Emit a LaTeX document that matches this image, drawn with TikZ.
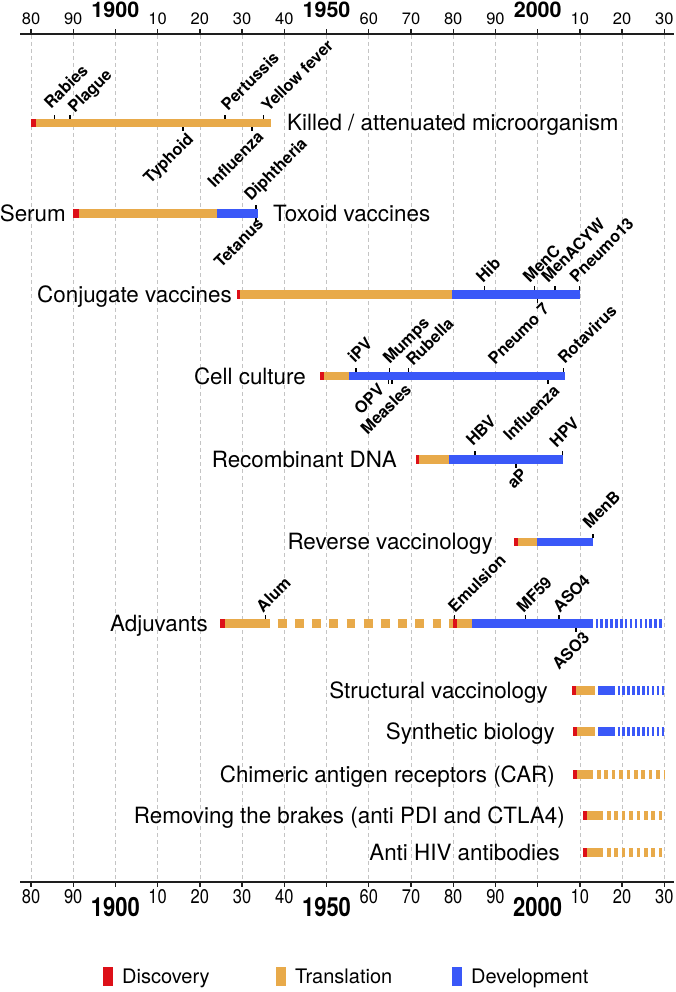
\documentclass[tikz,border=0pt]{standalone}
\usepackage{fontspec}
\setmainfont{TeX Gyre Heros}
\definecolor{cdisc}{HTML}{DD1018}
\definecolor{ctrans}{HTML}{E8AA4A}
\definecolor{cdev}{HTML}{3A58F8}
\definecolor{cgrid}{HTML}{C4C4C4}
\definecolor{caxis}{HTML}{1E1E1E}
\newcommand\bh{4.25}
% solid bar segment: colour, x1, x2, y
\newcommand\barseg[4]{\fill[#1] (#2,{#4-\bh}) rectangle (#3,{#4+\bh});}
% dashed bar segment: colour, x1, x2, y, pattern
\newcommand\dbarseg[5]{\draw[#1, line width=8.5pt, dash pattern=#5] (#2,#4) -- (#3,#4);}
% label above: name, x, y, dx, dy, text   (offset of text baseline start from tick top)
\newcommand\lu[6]{\draw[tk] (#2,{#3-\bh}) -- (#2,{#3-\bh-4}); \node[upl] (#1) at ({#2+#4},{#3-\bh-4+#5}) {#6};}
% label below: name, x, y, dx, dy, text   (offset of text top-right from tick bottom)
\newcommand\ld[6]{\draw[tk] (#2,{#3+\bh}) -- (#2,{#3+\bh+4}); \node[dnl] (#1) at ({#2+#4},{#3+\bh+4+#5}) {#6};}
\begin{document}
\begin{tikzpicture}[x=1pt,y=-1pt,
  lab/.style={inner sep=0pt, font=\fontsize{22.4}{24}\selectfont},
  upl/.style={anchor=base west, rotate=45, inner sep=0pt, font=\bfseries\fontsize{16.3}{16}\selectfont},
  dnl/.style={anchor=north east, rotate=45, inner sep=0pt, font=\bfseries\fontsize{16.3}{16}\selectfont},
  tk/.style={line width=1.6pt, black},
  gridl/.style={cgrid, line width=0.7pt, dash pattern=on 4pt off 3pt},
  axl/.style={caxis, line width=1.8pt},
  axt/.style={caxis, line width=1.4pt},
  topnum/.style={anchor=base, inner sep=0pt, font=\fontsize{16.5}{16}\selectfont},
  topyear/.style={anchor=base, inner sep=0pt, font=\bfseries\fontsize{21.5}{22}\selectfont},
  botnum/.style={anchor=north, inner sep=0pt, yscale=1.2, font=\fontsize{16.5}{16}\selectfont},
  botyear/.style={anchor=north, inner sep=0pt, yscale=1.2, font=\bfseries\fontsize{22}{22}\selectfont},
  legt/.style={anchor=base west, inner sep=0pt, font=\fontsize{20}{20}\selectfont},
]
\useasboundingbox (0,0) rectangle (676,992);
\fill[white] (0,0) rectangle (676,992);

% grid
\foreach \i in {0,...,15} {\draw[gridl] ({31+\i*42.2222},35) -- ({31+\i*42.2222},881);}

% top axis
\draw[axl] (20,34) -- (674,34);
\foreach \i in {0,...,15} {\draw[axt] ({31+\i*42.2222},34) -- ({31+\i*42.2222},29);}
\foreach \i/\t in {0/80,1/90,3/10,4/20,5/30,6/40,8/60,9/70,10/80,11/90,13/10,14/20,15/30}
  {\node[topnum] (tn\i) at ({31+\i*42.2222},25) {\t};}
\node[topyear] (ty1900) at (115.4,17.3) {1900};
\node[topyear] (ty1950) at (326.5,17.3) {1950};
\node[topyear] (ty2000) at (537.7,17.3) {2000};

% bottom axis
\draw[axl] (20,882) -- (674,882);
\foreach \i in {0,...,15} {\draw[axt] ({31+\i*42.2222},882) -- ({31+\i*42.2222},887);}
\foreach \i/\t in {0/80,1/90,3/10,4/20,5/30,6/40,8/60,9/70,10/80,11/90,13/10,14/20,15/30}
  {\node[botnum] (bn\i) at ({31+\i*42.2222},889) {\t};}
\node[botyear] (by1900) at (115.4,897) {1900};
\node[botyear] (by1950) at (326.5,897) {1950};
\node[botyear] (by2000) at (537.7,897) {2000};

% Killed / attenuated
\barseg{cdisc}{31}{36}{123}
\barseg{ctrans}{36}{271}{123}
\lu{rab}{54.3}{123}{-3.3}{-5}{Rabies}
\lu{pla}{70}{123}{4.8}{-1}{Plague}
\lu{per}{225}{123}{3}{-3.3}{Pertussis}
\lu{yf}{263.3}{123}{4.9}{-1.7}{Yellow fever}
\ld{typ}{182.7}{123}{3}{0}{Typhoid}
\ld{infa}{251.7}{123}{4.5}{-1.5}{Influenza}
\node[lab, anchor=base west] (killed) at (287,131) {Killed / attenuated microorganism};

% Serum / Toxoid
\node[lab, anchor=base east] (serum) at (66,221.5) {Serum};
\barseg{cdisc}{73.3}{78.7}{213.5}
\barseg{ctrans}{78.7}{217.3}{213.5}
\barseg{cdev}{217.3}{258.3}{213.5}
\lu{dip}{256}{213.5}{-5}{-3.3}{Diphtheria}
\ld{tet}{256}{213.5}{0}{-5}{Tetanus}
\node[lab, anchor=base west] (toxoid) at (273,221.5) {Toxoid vaccines};

% Conjugate
\node[lab, anchor=base east] (conj) at (232,302.5) {Conjugate vaccines};
\barseg{cdisc}{236.7}{240}{294.5}
\barseg{ctrans}{240}{451.7}{294.5}
\barseg{cdev}{451.7}{580}{294.5}
\lu{hib}{484.3}{294.5}{-1.3}{-2.7}{Hib}
\lu{menc}{534.3}{294.5}{-4.5}{-2.7}{MenC}
\lu{menacyw}{555}{294.5}{-6.9}{-2.7}{MenACYW}
\lu{pn13}{579.3}{294.5}{-2.9}{-2.7}{Pneumo13}
\ld{pn7}{537.3}{294.5}{4.6}{-1}{Pneumo 7}

% Cell culture
\node[lab, anchor=base east] (cell) at (306,384) {Cell culture};
\barseg{cdisc}{320}{324}{376}
\barseg{ctrans}{324}{349}{376}
\barseg{cdev}{349}{565}{376}
\lu{ipv}{355.7}{376}{-0.9}{-4.4}{iPV}
\lu{mum}{389.3}{376}{0.5}{-2.7}{Mumps}
\lu{rub}{408.3}{376}{4.7}{-1}{Rubella}
\lu{rot}{563.3}{376}{1.5}{-2.7}{Rotavirus}
\ld{infb}{547.7}{376}{4.3}{-1}{Influenza}
\draw[tk] (388.3,380.25) -- (388.3,384.25);
\draw[tk] (391.7,380.25) -- (391.7,384.25);
\node[dnl] (opv) at (377,382) {OPV};
\node[dnl] (mea) at (404,382) {Measles};

% Recombinant DNA
\node[lab, anchor=base east] (rdna) at (397,467.5) {Recombinant DNA};
\barseg{cdisc}{415.7}{419.3}{459.5}
\barseg{ctrans}{419.3}{449.3}{459.5}
\barseg{cdev}{449.3}{563.3}{459.5}
\lu{hbv}{475}{459.5}{-2}{-4.5}{HBV}
\lu{hpv}{562.3}{459.5}{-5.9}{-3}{HPV}
\ld{ap}{515.7}{459.5}{4}{-1}{aP}

% Reverse vaccinology
\node[lab, anchor=base east] (rev) at (493,549.8) {Reverse vaccinology};
\barseg{cdisc}{514}{517.7}{541.8}
\barseg{ctrans}{517.7}{536.7}{541.8}
\barseg{cdev}{536.7}{593.3}{541.8}
\lu{menb}{592.7}{541.8}{-2.9}{-4.2}{MenB}

% Adjuvants
\node[lab, anchor=base east] (adj) at (208,631.5) {Adjuvants};
\barseg{cdisc}{220}{224.5}{623.5}
\barseg{ctrans}{224.5}{270}{623.5}
\dbarseg{ctrans}{277.7}{445}{623.5}{on 8.8pt off 8.4pt}
\barseg{ctrans}{449}{452.5}{623.5}
\barseg{cdisc}{452.5}{456.5}{623.5}
\barseg{ctrans}{456.5}{471.6}{623.5}
\barseg{cdev}{471.6}{593.3}{623.5}
\dbarseg{cdev}{595.5}{664}{623.5}{on 2.5pt off 2.4pt}
\lu{alum}{265.5}{623.5}{-2.5}{-2}{Alum}
\lu{emu}{454.5}{623.5}{0.5}{-1.5}{Emulsion}
\lu{mf59}{525.6}{623.5}{-2.1}{-2}{MF59}
\lu{aso4}{559}{623.5}{0.6}{-2}{ASO4}
\ld{aso3}{576}{623.5}{6}{-1}{ASO3}

% Structural vaccinology
\node[lab, anchor=base east] (struct) at (548,698.7) {Structural vaccinology};
\barseg{cdisc}{571.7}{575.7}{690.7}
\barseg{ctrans}{575.7}{595}{690.7}
\barseg{cdev}{598.3}{615}{690.7}
\dbarseg{cdev}{617.5}{664}{690.7}{on 2.5pt off 2.4pt}

% Synthetic biology
\node[lab, anchor=base east] (synth) at (555,739.7) {Synthetic biology};
\barseg{cdisc}{573.3}{577.3}{731.7}
\barseg{ctrans}{577.3}{595}{731.7}
\barseg{cdev}{598.3}{615}{731.7}
\dbarseg{cdev}{617.5}{664}{731.7}{on 2.5pt off 2.4pt}

% CAR
\node[lab, anchor=base east] (car) at (555,782.3) {Chimeric antigen receptors (CAR)};
\barseg{cdisc}{573.3}{577.3}{774.3}
\barseg{ctrans}{577.3}{593.3}{774.3}
\dbarseg{ctrans}{597}{664}{774.3}{on 3.6pt off 3.8pt}

% Removing the brakes
\node[lab, anchor=base east] (brakes) at (565,823.7) {Removing the brakes (anti PDI and CTLA4)};
\barseg{cdisc}{582.7}{586.7}{815.7}
\barseg{ctrans}{586.7}{603}{815.7}
\dbarseg{ctrans}{607}{664}{815.7}{on 3.6pt off 3.8pt}

% Anti HIV
\node[lab, anchor=base east] (hiv) at (560,860.7) {Anti HIV antibodies};
\barseg{cdisc}{582.7}{586.7}{852.7}
\barseg{ctrans}{586.7}{603}{852.7}
\dbarseg{ctrans}{607}{664}{852.7}{on 3.6pt off 3.8pt}

% legend
\fill[cdisc] (103,967) rectangle (113,986);
\node[legt] (ldisc) at (122,983.5) {Discovery};
\fill[ctrans] (276,967) rectangle (286,986);
\node[legt] (ltrans) at (295,983.5) {Translation};
\fill[cdev] (452,967) rectangle (462,986);
\node[legt] (ldev) at (471,983.5) {Development};
\end{tikzpicture}
\end{document}
